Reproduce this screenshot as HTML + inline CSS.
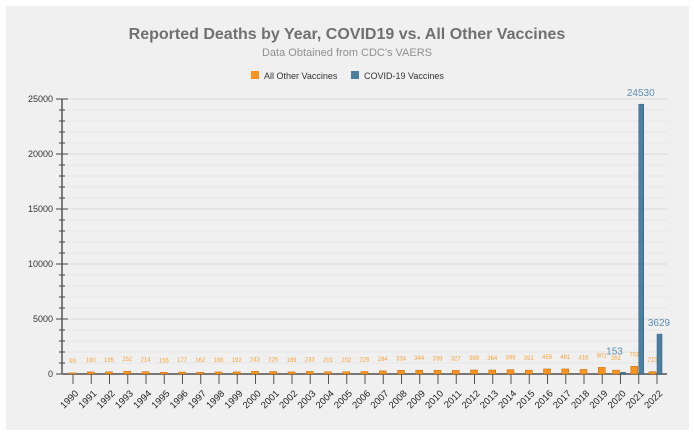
<!DOCTYPE html>
<html><head><meta charset="utf-8"><style>
html,body{margin:0;padding:0;background:#fff;width:694px;height:435px;overflow:hidden}
svg{display:block;font-family:"Liberation Sans",sans-serif}
</style></head><body>
<svg id="c" width="694" height="435"></svg>
<script>
const years=[];for(let y=1990;y<=2022;y++)years.push(String(y));
const otherVals=[99,190,195,252,214,156,177,162,188,192,243,225,189,233,201,202,226,284,334,344,339,327,369,364,399,351,459,461,416,601,351,703,215];
const covidVals=[null,null,null,null,null,null,null,null,null,null,null,null,null,null,null,null,null,null,null,null,null,null,null,null,null,null,null,null,null,null,153,24530,3629];
const yTicks=[0,5000,10000,15000,20000,25000];
const NS="http://www.w3.org/2000/svg";
const svg=document.getElementById('c');
function mk(t,a,p){const e=document.createElementNS(NS,t);for(const k in a)e.setAttribute(k,a[k]);(p||svg).appendChild(e);return e;}
const x0=62,x1=667,yb=374,yt=99,ymax=25000;
const Y=v=>yb-(v/ymax)*(yb-yt);
const first=73,step=18.25;
const X=i=>first+i*step;
let e=mk('rect',{x:6,y:6,width:683,height:424,fill:'#f0f0f0'});

e=mk('text',{x:347,y:39,'text-anchor':'middle','font-size':16,'font-weight':'bold',fill:'#707070'});e.textContent='Reported Deaths by Year, COVID19 vs. All Other Vaccines';

e=mk('text',{x:347,y:56,'text-anchor':'middle','font-size':11,fill:'#909090'});e.textContent="Data Obtained from CDC's VAERS";

let lg=mk('g',{});
mk('rect',{x:251,y:71,width:8,height:8,fill:'#f7931e'},lg);
e=mk('text',{x:264,y:79,'font-size':9,fill:'#333'},lg);e.textContent='All Other Vaccines';
lg=mk('g',{});
mk('rect',{x:351,y:71,width:8,height:8,fill:'#4a7fa0'},lg);
e=mk('text',{x:364,y:79,'font-size':9,fill:'#333'},lg);e.textContent='COVID-19 Vaccines';
for(let v=0;v<=ymax;v+=1000){const g=mk('line',{x1:x0,x2:x1,y1:Y(v),y2:Y(v),stroke:v%5000?'#e6e6e6':'#dadada','stroke-width':1});

mk('line',{x1:x0-3,x2:x0+3,y1:Y(v),y2:Y(v),stroke:'#444'});}
yTicks.forEach(v=>{const t=mk('text',{x:53,y:Y(v)+3,'text-anchor':'end','font-size':9,fill:'#333'});t.textContent=v;

mk('line',{x1:x0-6,x2:x0+6,y1:Y(v),y2:Y(v),stroke:'#444'});});
e=mk('line',{x1:x0,x2:x0,y1:yt,y2:yb,stroke:'#555','stroke-width':1.5});
e=mk('line',{x1:x0,x2:x1,y1:yb,y2:yb,stroke:'#777','stroke-width':2});
years.forEach((yr,i)=>{const x=X(i);
mk('line',{x1:x,x2:x,y1:yb,y2:yb+10,stroke:'#555'});
const tx=x+6,ty=yb+20;
const t=mk('text',{x:tx,y:ty,'text-anchor':'end','font-size':9.5,fill:'#222',transform:`rotate(-45 ${tx} ${ty})`});t.textContent=yr;

const v=otherVals[i];const hasC=covidVals[i]!=null;const bx=hasC?x-8:x-4;
const r=mk('rect',{x:bx,y:Y(v),width:7,height:Math.max(yb-Y(v),1),fill:'#f7931e',stroke:'#c86e0a','stroke-width':0.5});

const l=mk('text',{x:bx+3.5,y:Y(v)-10,'text-anchor':'middle','font-size':6,fill:'#f7a33e'});l.textContent=v;

if(hasC){const c=covidVals[i];
const b=mk('rect',{x:x,y:Y(c),width:5,height:yb-Y(c),fill:'#4a7fa0',stroke:'#2f5f7f','stroke-width':0.5});

const cl=mk('text',{x:x+(c<1000?-6:2),y:Y(c)-(c<1000?18:8),'text-anchor':'middle','font-size':10,fill:'#5a8fb0'});cl.textContent=c;
}
});
</script>
</body></html>
